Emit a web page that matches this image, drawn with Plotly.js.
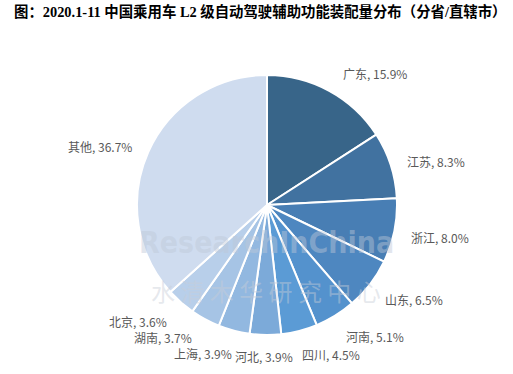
<!DOCTYPE html>
<html><head><meta charset="utf-8">
<script src="https://cdn.plot.ly/plotly-3.0.1.min.js"></script>
<style>html,body{margin:0;padding:0;background:#fff}</style>
</head><body>
<div id="chart" style="width:513px;height:374px"></div>
<script>
const categories = ['广东','江苏','浙江','山东','河南','四川','河北','上海','湖南','北京','其他'];
const shares = [15.9, 8.3, 8.0, 6.5, 5.1, 4.5, 3.9, 3.9, 3.7, 3.6, 36.7];
const sliceColors = ['#386589','#4172a0','#487eb4','#4e87c0','#5492cd','#5b9bd5','#7caad9','#92b8e0','#a6c4e5','#b8cfea','#cfdcef'];
// label anchor positions in pixels (layout only)
const labelPos = [[375,73],[436,162],[440,237],[414,299],[375,336],[331,354],[264,356],[203,353],[163,337],[138,321],[100,146]];

const W = 513, H = 374;
const annotations = categories.map((c,i)=>({
  text: c + ', ' + shares[i].toFixed(1) + '%',
  xref:'paper', yref:'paper', x: labelPos[i][0]/W, y: 1 - labelPos[i][1]/H,
  xanchor:'center', yanchor:'middle', showarrow:false,
  font:{family:'"Noto Sans CJK SC", "Open Sans", sans-serif', size:12, color:'#595959'}
}));
annotations.push({text:'ResearchInChina', xref:'paper', yref:'paper', x:266/W, y:1-242/H, xanchor:'center', yanchor:'middle', showarrow:false,
  font:{family:'"DejaVu Sans Condensed", "DejaVu Sans", sans-serif', size:30, color:'rgba(190,200,215,0.45)', weight:'bold'}});
annotations.push({text:'水 清 木 华 研 究 中 心', xref:'paper', yref:'paper', x:266/W, y:1-290/H, xanchor:'center', yanchor:'middle', showarrow:false,
  font:{family:'"Noto Sans CJK SC", sans-serif', size:24, color:'rgba(200,205,215,0.45)'}});

const data = [{
  type:'pie', labels:categories, values:shares, sort:false, direction:'clockwise', rotation:0,
  marker:{colors:sliceColors, line:{color:'#ffffff', width:2}},
  textinfo:'none', hoverinfo:'none', showlegend:false,
  domain:{x:[137/W, 397/W], y:[1-335/H, 1-75/H]}
}];
const layout = {
  width:W, height:H, margin:{l:0,r:0,t:0,b:0}, paper_bgcolor:'#fff',
  title:{text:'<b>图：2020.1-11 中国乘用车 L2 级自动驾驶辅助功能装配量分布（分省/直辖市）</b>',
    x:14/W, xanchor:'left', xref:'paper', y:1-12/H, yanchor:'middle', yref:'paper',
    font:{family:'"Liberation Serif", "Noto Sans CJK SC", serif', size:14.4, color:'#000'}},
  annotations: annotations
};
Plotly.newPlot('chart', data, layout, {displayModeBar:false, staticPlot:true});
</script>
</body></html>
